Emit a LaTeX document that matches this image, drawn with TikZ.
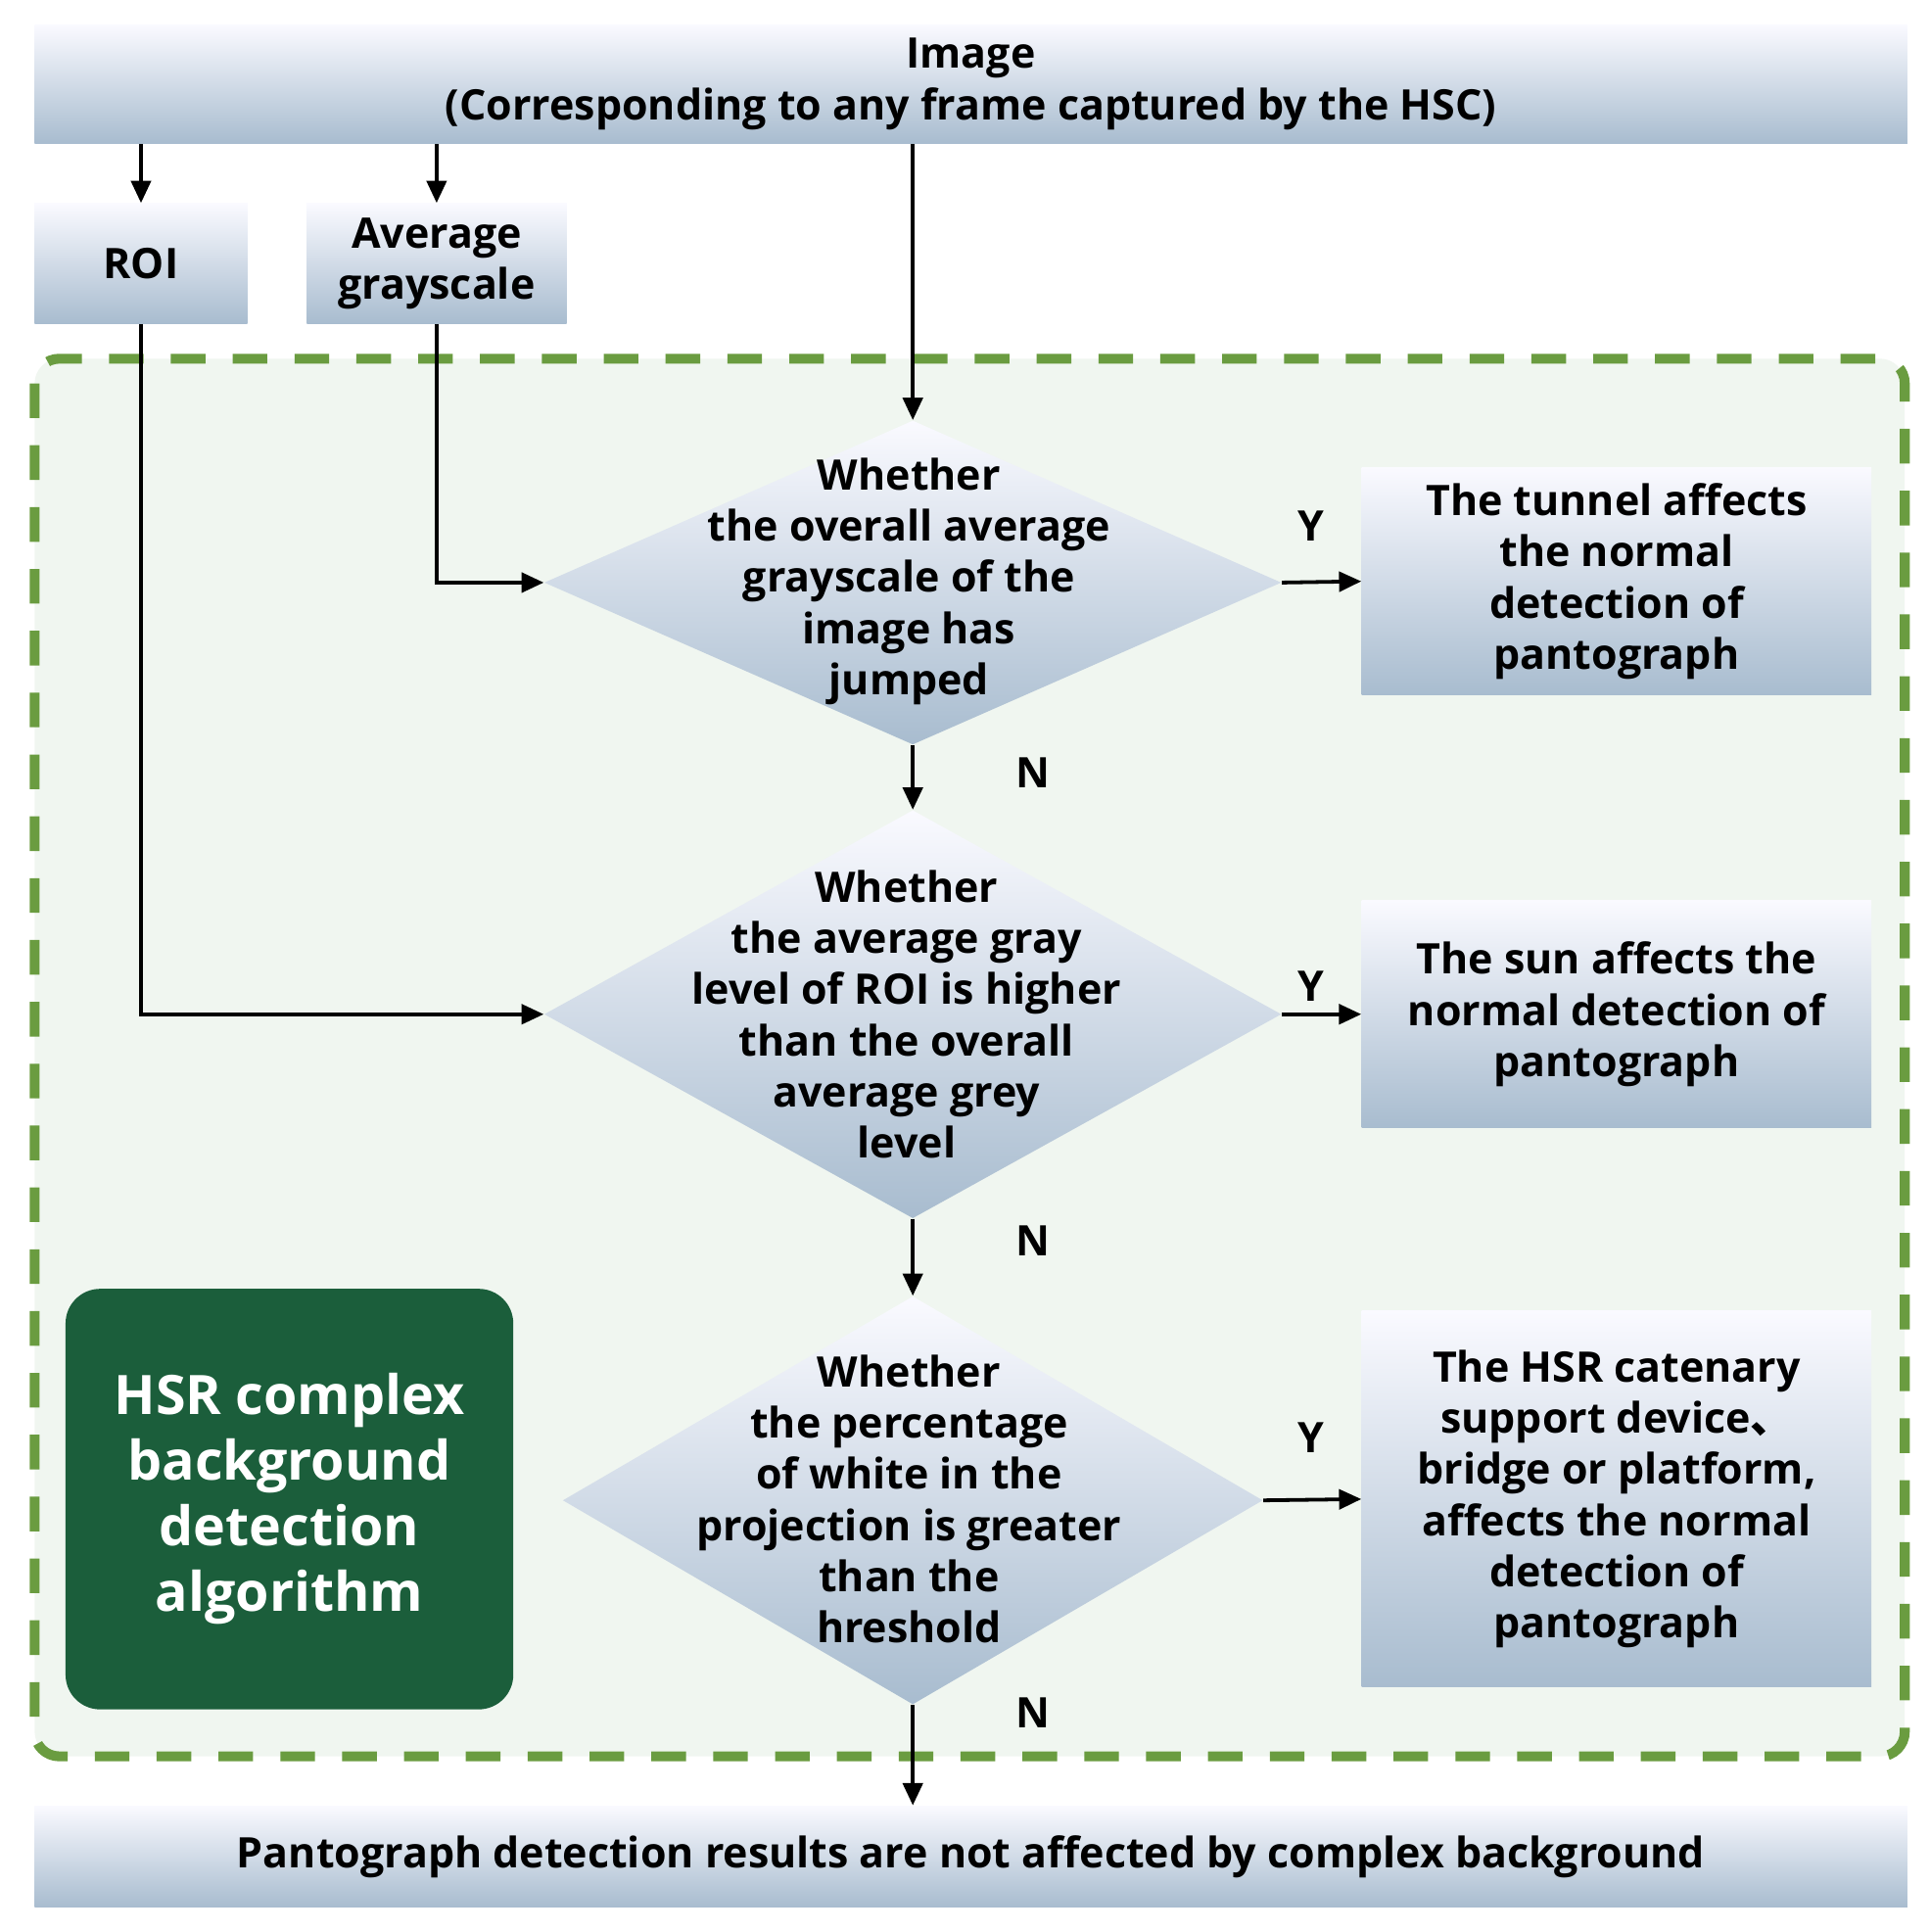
\documentclass[tikz,border=0pt]{standalone}
\usepackage{fontspec}
\setmainfont{Open Sans}
\newfontfamily\cjk{Noto Sans CJK SC}
\usetikzlibrary{shapes.geometric,arrows.meta}
\begin{document}
\begin{tikzpicture}[x=0.5pt,y=-0.5pt,
 box/.style={draw=none,top color=blue!2!white,bottom color={rgb,255:red,168;green,188;blue,207},inner sep=0,font=\bfseries\fontsize{17}{20.7}\selectfont,align=center},
 dia/.style={diamond,draw=none,top color=blue!2!white,bottom color={rgb,255:red,168;green,188;blue,207},inner sep=0,minimum width=298pt,minimum height=131pt},
 txt/.style={font=\bfseries\fontsize{17}{20.7}\selectfont,align=center,inner sep=0},
 arr/.style={line width=1.5pt,-{Triangle[length=9pt,width=8pt]}}]
\useasboundingbox (0,0) rectangle (1560,1562);
\fill[white] (0,0) rectangle (1560,1562);
\draw[fill={rgb,255:red,240;green,246;blue,240},draw={rgb,255:red,106;green,156;blue,64},line width=4pt,dash pattern=on 14pt off 11pt,rounded corners=10pt] (28,290) rectangle (1540,1420);
\node[box,minimum width=757pt,minimum height=48pt] (img) at (785,68) {Image\\(Corresponding to any frame captured by the HSC)};
\node[box,minimum width=86pt,minimum height=48.5pt] (roi) at (114,213) {ROI};
\node[box,minimum width=105pt,minimum height=48.5pt] (avg) at (353,213) {Average\\grayscale};
\node[dia] (d1) at (738,471) {};
\node[txt] at (735,470) {Whether\\the overall average\\grayscale of the\\image has\\jumped};
\node[dia,minimum width=298pt,minimum height=165pt] (d2) at (738,820) {};
\node[txt] at (733,820) {Whether\\the average gray\\level of ROI is higher\\than the overall\\average grey\\level};
\node[dia,minimum width=283pt,minimum height=165pt] (d3) at (738,1213) {};
\node[txt] at (735,1212) {Whether\\the percentage\\of white in the\\projection is greater\\than the\\hreshold};
\node[box,minimum width=206pt,minimum height=92pt] (r1) at (1307,470) {The tunnel affects\\the normal\\detection of\\pantograph};
\node[box,minimum width=206pt,minimum height=92pt] (r2) at (1307,820) {The sun affects the\\normal detection of\\pantograph};
\node[box,minimum width=206pt,minimum height=152pt] (r3) at (1307,1212) {The HSR catenary\\support device{\cjk 、}\\bridge or platform,\\affects the normal\\detection of\\pantograph};
\node[fill={rgb,255:red,27;green,94;blue,59},rounded corners=14pt,minimum width=181pt,minimum height=170pt,text=white,font=\bfseries\fontsize{22}{26.5}\selectfont,align=center,inner sep=0] (hsr) at (234,1212) {HSR complex\\background\\detection\\algorithm};
\node[box,minimum width=757pt,minimum height=41pt] (res) at (785,1501) {Pantograph detection results are not affected by complex background};
\draw[arr] (img.south -| roi) -- (roi.north);
\draw[arr] (img.south -| avg) -- (avg.north);
\draw[arr] (img.south -| d1) -- (d1.north);
\draw[arr] (avg.south) |- (d1.west);
\draw[arr] (roi.south) |- (d2.west);
\draw[arr] (d1.south) -- (d2.north);
\draw[arr] (d2.south) -- (d3.north);
\draw[arr] (d3.south) -- (res.north -| d3);
\draw[arr] (d1.east) -- (r1.west);
\draw[arr] (d2.east) -- (r2.west);
\draw[arr] (d3.east) -- (r3.west);
\node[txt] (y1) at (1060,425) {Y};
\node[txt] (y2) at (1060,797) {Y};
\node[txt] (y3) at (1060,1162) {Y};
\node[txt] (n1) at (835,625) {N};
\node[txt] (n2) at (835,1003) {N};
\node[txt] (n3) at (835,1385) {N};
\end{tikzpicture}
\end{document}
